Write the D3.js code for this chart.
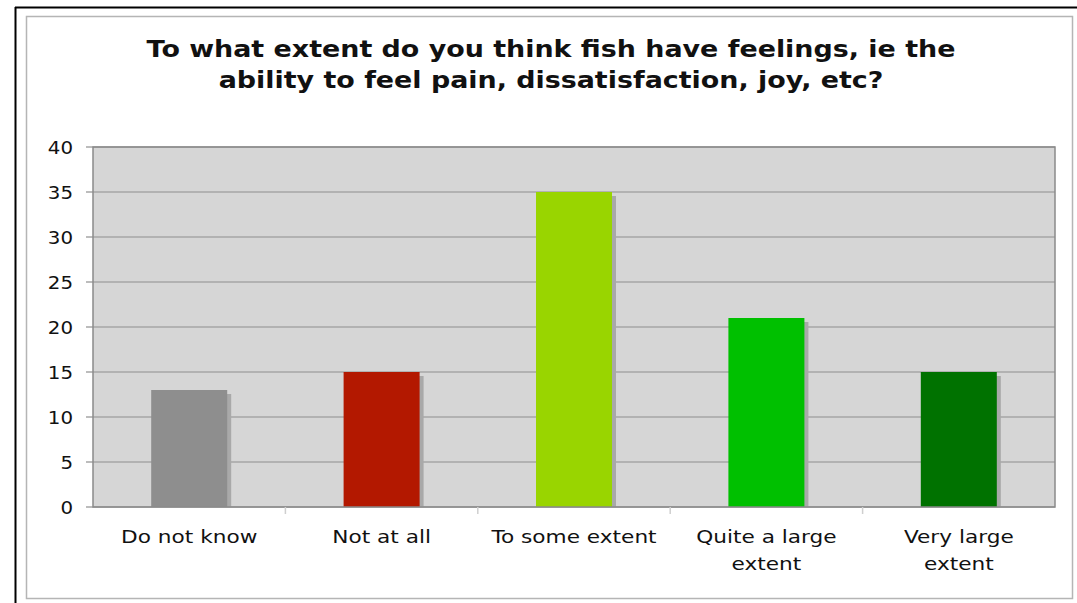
<!DOCTYPE html>
<meta charset="utf-8">
<script src="https://d3js.org/d3.v7.min.js"></script>
<style>
  body { margin: 0; background: #fff; }
  text { font-family: "DejaVu Sans", Verdana, sans-serif; fill: #111; }
</style>
<svg id="chart" width="1077" height="603"></svg>
<script>
  // data
  const categories = ["Do not know", "Not at all", "To some extent", "Quite a large extent", "Very large extent"];
  const labelLines = [["Do not know"], ["Not at all"], ["To some extent"], ["Quite a large", "extent"], ["Very large", "extent"]];
  const values = [13, 15, 35, 21, 15];
  const colors = ["#8e8e8e", "#b31800", "#99d500", "#00c000", "#007200"];
  const yTicks = [0, 5, 10, 15, 20, 25, 30, 35, 40];
  const titleLines = ["To what extent do you think fish have feelings, ie the",
                      "ability to feel pain, dissatisfaction, joy, etc?"];

  const svg = d3.select("#chart");

  // outer frame (black) and inner chart border (gray)
  svg.append("line").attr("x1", 15).attr("x2", 1077).attr("y1", 7.5).attr("y2", 7.5)
    .attr("stroke", "#000").attr("stroke-width", 2);
  svg.append("line").attr("x1", 15.5).attr("x2", 15.5).attr("y1", 7).attr("y2", 603)
    .attr("stroke", "#000").attr("stroke-width", 2);
  svg.append("rect").attr("x", 26.5).attr("y", 16.5).attr("width", 1046).attr("height", 582)
    .attr("fill", "#fff").attr("stroke", "#b5b5b5").attr("stroke-width", 1.5);

  // title (source text is a bit wider than DejaVu, so stretch horizontally)
  svg.append("g").selectAll("text")
    .data(titleLines).join("text")
    .attr("transform", (d, i) => `translate(551,${57 + i * 31}) scale(1.17,1)`)
    .attr("text-anchor", "middle")
    .style("font-size", "23px").style("font-weight", "bold")
    .text(d => d);

  const margin = { left: 93, top: 147, right: 1055, bottom: 507 };

  const x = d3.scaleBand().domain(categories).range([margin.left, margin.right]).paddingInner(0).paddingOuter(0);
  const y = d3.scaleLinear().domain([0, 40]).range([margin.bottom, margin.top]);

  // plot background
  svg.append("rect")
    .attr("x", margin.left).attr("y", margin.top)
    .attr("width", margin.right - margin.left).attr("height", margin.bottom - margin.top)
    .attr("fill", "#d6d6d6");

  // gridlines
  svg.append("g").selectAll("line")
    .data(yTicks).join("line")
    .attr("x1", margin.left - 7).attr("x2", margin.right)
    .attr("y1", d => y(d)).attr("y2", d => y(d))
    .attr("stroke", "#a6a6a6").attr("stroke-width", 1.5);

  const barW = 76;

  // shadows
  svg.append("g").selectAll("rect")
    .data(values).join("rect")
    .attr("x", (d, i) => x(categories[i]) + x.bandwidth() / 2 - barW / 2 + 4)
    .attr("y", d => y(d) + 4)
    .attr("width", barW)
    .attr("height", d => y(0) - y(d) - 4)
    .attr("fill", "#a9a9a9");

  // bars
  svg.append("g").selectAll("rect")
    .data(values).join("rect")
    .attr("x", (d, i) => x(categories[i]) + x.bandwidth() / 2 - barW / 2)
    .attr("y", d => y(d))
    .attr("width", barW)
    .attr("height", d => y(0) - y(d))
    .attr("fill", (d, i) => colors[i]);

  // plot border
  svg.append("rect")
    .attr("x", margin.left).attr("y", margin.top)
    .attr("width", margin.right - margin.left).attr("height", margin.bottom - margin.top)
    .attr("fill", "none").attr("stroke", "#8a8a8a").attr("stroke-width", 1.5);

  // y axis labels
  svg.append("g").selectAll("text")
    .data(yTicks).join("text")
    .attr("transform", d => `translate(73,${y(d) + 6.5}) scale(1.1,1)`)
    .attr("text-anchor", "end")
    .style("font-size", "18px")
    .text(d => d);

  // x category boundary ticks
  svg.append("g").selectAll("line")
    .data(categories.slice(1)).join("line")
    .attr("x1", d => x(d)).attr("x2", d => x(d))
    .attr("y1", margin.bottom).attr("y2", margin.bottom + 7)
    .attr("stroke", "#cfcfcf").attr("stroke-width", 1.5);

  // x labels
  const xl = svg.append("g").selectAll("text")
    .data(categories).join("text")
    .attr("transform", d => `translate(${x(d) + x.bandwidth() / 2},543) scale(1.17,1)`)
    .attr("text-anchor", "middle")
    .style("font-size", "18.5px");
  xl.selectAll("tspan")
    .data((d, i) => labelLines[i]).join("tspan")
    .attr("x", 0)
    .attr("dy", (d, i) => i === 0 ? 0 : 27)
    .text(d => d);
</script>
